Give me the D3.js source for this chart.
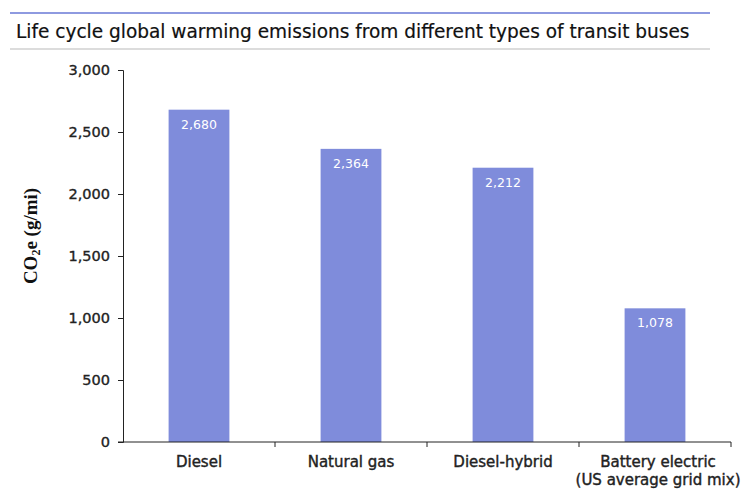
<!DOCTYPE html>
<html><head><meta charset="utf-8">
<script src="https://cdn.jsdelivr.net/npm/d3@7"></script>
<style>body{margin:0;background:#fff}</style>
</head><body>
<svg id="chart" width="750" height="500"></svg>
<script>
const categories = ["Diesel", "Natural gas", "Diesel-hybrid", "Battery electric\n(US average grid mix)"];
const values = [2680, 2364, 2212, 1078];
const yTicks = [0, 500, 1000, 1500, 2000, 2500, 3000];
const title = "Life cycle global warming emissions from different types of transit buses";

const svg = d3.select("#chart");
const font = "'DejaVu Sans', sans-serif";
const m = {left: 123, right: 19, top: 70, bottom: 58};
const W = 750, H = 500;

svg.append("line").attr("x1", 10).attr("x2", 710).attr("y1", 13).attr("y2", 13)
  .attr("stroke", "#8e9ae0").attr("stroke-width", 2);
const t = svg.append("text").attr("x", 16).attr("y", 38).text(title)
  .attr("font-family", font).attr("font-size", 17).attr("fill", "#111")
  .attr("stroke", "#111").attr("stroke-width", 0.2);
const tw = t.node().getComputedTextLength();
t.attr("font-size", 17 * 674 / tw);
svg.append("line").attr("x1", 10).attr("x2", 710).attr("y1", 49).attr("y2", 49)
  .attr("stroke", "#dcdcdc").attr("stroke-width", 2);

const x = d3.scaleBand().domain(categories).range([m.left, W - m.right]).paddingInner(0.6).paddingOuter(0.3);
const y = d3.scaleLinear().domain([0, 3000]).range([H - m.bottom, m.top]);

// bars
svg.append("g").selectAll("rect").data(values).join("rect")
  .attr("x", (d, i) => x(categories[i])).attr("width", x.bandwidth())
  .attr("y", d => y(d)).attr("height", d => y(0) - y(d))
  .attr("fill", "#7f8cdb");

svg.append("g").selectAll("text").data(values).join("text")
  .attr("x", (d, i) => x(categories[i]) + x.bandwidth() / 2)
  .attr("y", d => y(d) + 19)
  .attr("text-anchor", "middle").attr("fill", "#fff")
  .attr("font-family", font).attr("font-size", 12.5)
  .text(d => d3.format(",")(d));

// y axis
const yAxis = svg.append("g").attr("transform", `translate(${m.left},0)`)
  .call(d3.axisLeft(y).tickValues(yTicks).tickFormat(d3.format(",")).tickSizeOuter(0).tickSize(5).tickPadding(8));
yAxis.select(".domain").attr("stroke", "#222");
yAxis.selectAll(".tick line").attr("stroke", "#222");
yAxis.selectAll("text").attr("font-family", font).attr("font-size", 14.5).attr("fill", "#222")
  .attr("stroke", "#222").attr("stroke-width", 0.35);

// x axis
const bounds = d3.range(0, categories.length + 1).map(i => m.left + i * ((W - m.right - m.left) / categories.length));
const xg = svg.append("g");
xg.append("line").attr("x1", m.left - 5).attr("x2", W - m.right).attr("y1", y(0)).attr("y2", y(0)).attr("stroke", "#222");
xg.selectAll("line.t").data(bounds.slice(1)).join("line").attr("class", "t")
  .attr("x1", d => d).attr("x2", d => d).attr("y1", y(0)).attr("y2", y(0) + 5).attr("stroke", "#222");
const lbl = xg.selectAll("text").data(categories).join("text")
  .attr("text-anchor", "middle").attr("font-family", font).attr("font-size", 15).attr("fill", "#222")
  .attr("stroke", "#222").attr("stroke-width", 0.4)
  .attr("transform", (d, i) => `translate(${x(d) + x.bandwidth() / 2 + (i === 3 ? 3 : 0)},${y(0) + 25})`);
lbl.selectAll("tspan").data(d => d.split("\n")).join("tspan")
  .attr("x", 0).attr("dy", (d, i) => i === 0 ? 0 : 18).text(d => d);

// y label
const yl = svg.append("text").attr("transform", `translate(37,236) rotate(-90)`)
  .attr("text-anchor", "middle").attr("font-family", "'Liberation Serif', 'DejaVu Serif', serif")
  .attr("font-weight", "bold").attr("font-size", 19).attr("fill", "#111");
yl.append("tspan").text("CO");
yl.append("tspan").text("2").attr("font-size", 12).attr("dy", 3);
yl.append("tspan").text("e (g/mi)").attr("dy", -3);
</script>
</body></html>
